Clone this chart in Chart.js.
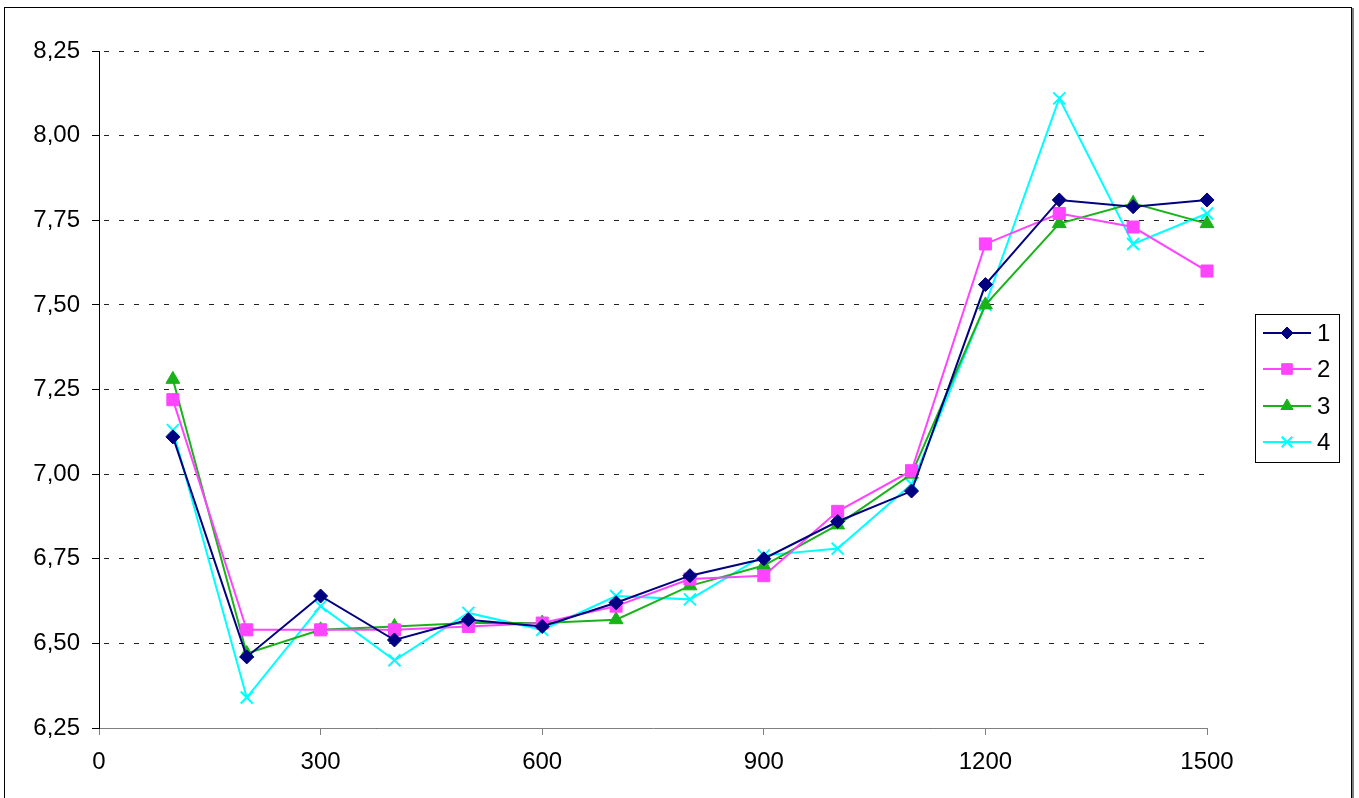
<!DOCTYPE html>
<html>
<head>
<meta charset="utf-8">
<script src="https://cdn.jsdelivr.net/npm/chart.js@4/dist/chart.umd.min.js"></script>
<style>
  html, body { margin: 0; padding: 0; background: #fff; }
  canvas { display: block; }
</style>
</head>
<body>
<canvas id="grafico" width="1359" height="798"></canvas>
<script>
// dados
const xValores = [100, 200, 300, 400, 500, 600, 700, 800, 900, 1000, 1100, 1200, 1300, 1400, 1500];
const serie1 = [7.11, 6.46, 6.64, 6.51, 6.57, 6.55, 6.62, 6.70, 6.75, 6.86, 6.95, 7.56, 7.81, 7.79, 7.81];
const serie2 = [7.22, 6.54, 6.54, 6.54, 6.55, 6.56, 6.61, 6.69, 6.70, 6.89, 7.01, 7.68, 7.77, 7.73, 7.60];
const serie3 = [7.28, 6.47, 6.54, 6.55, 6.56, 6.56, 6.57, 6.67, 6.73, 6.85, 7.00, 7.50, 7.74, 7.80, 7.74];
const serie4 = [7.13, 6.34, 6.61, 6.45, 6.59, 6.54, 6.64, 6.63, 6.76, 6.78, 6.97, 7.50, 8.11, 7.68, 7.77];
const nomesSeries = ['1', '2', '3', '4'];
const yMin = 6.25, yMax = 8.25, yPasso = 0.25;
const xMin = 0, xMax = 1500, xPasso = 300;

const FONTE = "'Liberation Sans', Arial, sans-serif";

function pontos(valores) {
    return xValores.map((x, i) => ({ x: x, y: valores[i] }));
}

// Moldura externa (estilo Excel)
const moldura = {
    id: 'moldura',
    beforeDraw(chart) {
        const ctx = chart.ctx;
        ctx.save();
        ctx.fillStyle = '#fff';
        ctx.fillRect(0, 0, chart.width, chart.height);
        ctx.strokeStyle = '#000';
        ctx.lineWidth = 1;
        ctx.strokeRect(4.5, 7.5, 1347, 800);
        ctx.strokeStyle = '#808080';
        ctx.lineWidth = 2;
        ctx.beginPath();
        ctx.moveTo(1353, 8);
        ctx.lineTo(1353, 798);
        ctx.stroke();
        ctx.restore();
    }
};

// Legenda com linha + marcador dentro de uma caixa
const legendaCaixa = {
    id: 'legendaCaixa',
    afterDraw(chart) {
        const ctx = chart.ctx;
        const left = 1255, top = 314, w = 84, h = 148;
        ctx.save();
        ctx.strokeStyle = '#000';
        ctx.lineWidth = 1;
        ctx.strokeRect(left + 0.5, top + 0.5, w, h);
        const linhas = [333, 369, 406, 442];
        chart.data.datasets.forEach((ds, i) => {
            const y = linhas[i];
            ctx.strokeStyle = ds.borderColor;
            ctx.lineWidth = 2;
            ctx.setLineDash([]);
            ctx.beginPath();
            ctx.moveTo(1263, y);
            ctx.lineTo(1311, y);
            ctx.stroke();
            ctx.fillStyle = ds.pointBackgroundColor;
            ctx.strokeStyle = ds.pointBorderColor;
            ctx.lineWidth = ds.pointBorderWidth;
            Chart.helpers.drawPoint(ctx, {
                pointStyle: ds.pointStyle,
                radius: ds.pointRadius - 1,
                rotation: 0,
                borderWidth: ds.pointBorderWidth
            }, 1287, y);
            ctx.fillStyle = '#000';
            ctx.font = '24px ' + FONTE;
            ctx.textAlign = 'left';
            ctx.textBaseline = 'middle';
            ctx.fillText(ds.label, 1317, y + 1);
        });
        ctx.restore();
    }
};

const ctx = document.getElementById('grafico').getContext('2d');
new Chart(ctx, {
    type: 'line',
    data: {
        datasets: [{
            label: nomesSeries[0],
            data: pontos(serie1),
            borderColor: '#000080',
            backgroundColor: '#000080',
            pointBackgroundColor: '#000080',
            pointBorderColor: '#000080',
            pointStyle: 'rectRot',
            pointRadius: 7,
            pointBorderWidth: 1
        }, {
            label: nomesSeries[1],
            data: pontos(serie2),
            borderColor: '#ff44ff',
            backgroundColor: '#ff44ff',
            pointBackgroundColor: '#ff44ff',
            pointBorderColor: '#ff44ff',
            pointStyle: 'rect',
            pointRadius: 8.5,
            pointBorderWidth: 1
        }, {
            label: nomesSeries[2],
            data: pontos(serie3),
            borderColor: '#19b319',
            backgroundColor: '#19b319',
            pointBackgroundColor: '#19b319',
            pointBorderColor: '#19b319',
            pointStyle: 'triangle',
            pointRadius: 8,
            pointBorderWidth: 1
        }, {
            label: nomesSeries[3],
            data: pontos(serie4),
            borderColor: '#00ffff',
            backgroundColor: '#00ffff',
            pointBackgroundColor: '#00ffff',
            pointBorderColor: '#00ffff',
            pointStyle: 'crossRot',
            pointRadius: 8.5,
            pointBorderWidth: 2
        }].map(ds => Object.assign(ds, {
            borderWidth: 2,
            tension: 0,
            fill: false,
            clip: false,
            pointHoverRadius: ds.pointRadius
        }))
    },
    options: {
        responsive: false,
        animation: false,
        devicePixelRatio: 1,
        layout: {
            padding: { left: 29, right: 152, top: 51, bottom: 0 }
        },
        plugins: {
            legend: { display: false },
            tooltip: { enabled: false }
        },
        scales: {
            x: {
                type: 'linear',
                min: xMin,
                max: xMax,
                afterFit: s => { s.height = 70; },
                ticks: {
                    stepSize: xPasso,
                    color: '#000',
                    padding: 13,
                    maxRotation: 0,
                    font: { family: FONTE, size: 24 },
                    callback: v => String(v)
                },
                grid: {
                    drawOnChartArea: false,
                    drawTicks: true,
                    tickLength: 7,
                    tickColor: '#808080',
                    color: '#808080'
                },
                border: { display: true, color: '#808080', width: 1 }
            },
            y: {
                min: yMin,
                max: yMax,
                afterFit: s => { s.width = 70; },
                ticks: {
                    stepSize: yPasso,
                    color: '#000',
                    padding: 12,
                    font: { family: FONTE, size: 24 },
                    callback: v => v.toFixed(2).replace('.', ',')
                },
                grid: {
                    color: '#222',
                    lineWidth: 1,
                    tickLength: 7,
                    tickColor: '#000',
                    tickBorderDash: []
                },
                border: { display: true, color: '#000', width: 1, dash: [5, 10], dashOffset: -4 }
            }
        }
    },
    plugins: [moldura, legendaCaixa]
});
</script>
</body>
</html>
